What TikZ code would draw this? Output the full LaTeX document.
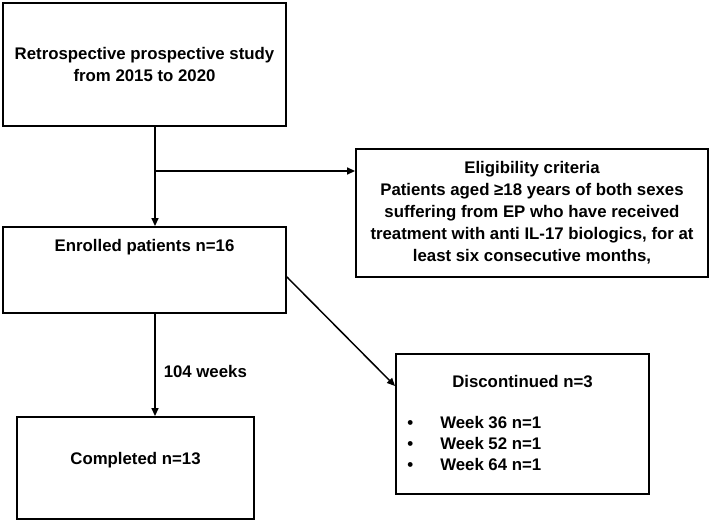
\documentclass[tikz,border=0pt]{standalone}
\usepackage{fontspec}
\setmainfont{Liberation Sans}
\usetikzlibrary{arrows.meta,positioning,calc}
\tikzset{
  box/.style={rectangle,draw=black,line width=1.9pt,inner sep=0pt},
  txt/.style={font=\fontsize{16.8}{22}\selectfont\bfseries,align=center,inner sep=0pt},
  flow/.style={-{Triangle[length=8pt,width=7pt]},line width=1.5pt},
}

\begin{document}
\begin{tikzpicture}[x=1pt,y=1pt]
  \useasboundingbox (0,0) rectangle (711,-522);
  % boxes
  \node[box,txt,minimum width=283pt,minimum height=123pt] (study) at (144.5,-64.5)
    {Retrospective prospective study\\from 2015 to 2020};
  \node[box,minimum width=283pt,minimum height=86pt] (enrolled) at (144.5,-270) {};
  \node[txt,below=13pt of enrolled.north] (enrolledTxt) {Enrolled patients n=16};
  \node[box,txt,minimum width=352pt,minimum height=128pt] (elig) at (532,-213)
    {Eligibility criteria\\Patients aged ≥18 years of both sexes\\suffering from EP who have received\\treatment with anti IL-17 biologics, for at\\least six consecutive months,};
  \node[box,minimum width=253pt,minimum height=140pt] (disc) at (522.5,-424) {};
  \node[txt,below=22pt of disc.north] (discTxt) {Discontinued n=3};
  \node[txt,align=left,font=\fontsize{16.8}{21}\selectfont\bfseries,
        below right=63pt and 12pt of disc.north west] (discList)
    {\makebox[33pt][l]{\textbullet}Week 36 n=1\\
     \makebox[33pt][l]{\textbullet}Week 52 n=1\\
     \makebox[33pt][l]{\textbullet}Week 64 n=1};
  \node[box,minimum width=237pt,minimum height=102pt] (completed) at (135.5,-468) {};
  \node[txt,below=36pt of completed.north] (completedTxt) {Completed n=13};
  % connectors
  \coordinate (split) at (155,-171);
  \draw[line width=1.5pt] (split |- study.south) -- (split);
  \draw[flow] (split) -- (split |- enrolled.north);
  \draw[flow] (split) -- (split -| elig.west);
  \draw[flow] ([yshift=-7pt]enrolled.east) -- ([yshift=38pt]disc.west);
  \draw[flow] (split |- enrolled.south) --
    node[txt,anchor=west,xshift=8pt,pos=0.56] (weeks) {104 weeks} (split |- completed.north);
\end{tikzpicture}
\end{document}
